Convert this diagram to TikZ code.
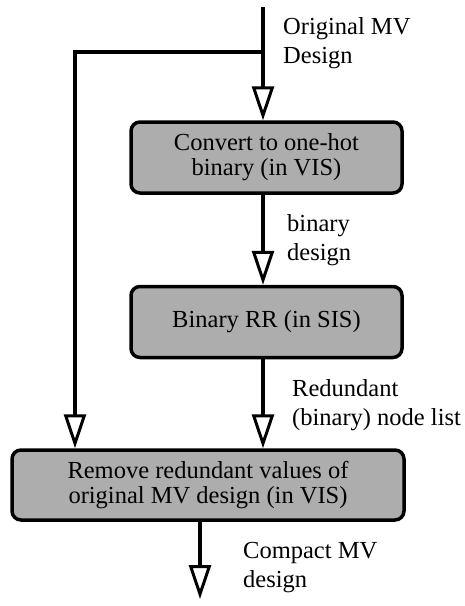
\documentclass[tikz,border=0pt]{standalone}
\usepackage{fontspec}
\setmainfont{Liberation Serif}
\usetikzlibrary{arrows.meta}
\begin{document}
\begin{tikzpicture}[x=1pt,y=-1pt,
  stepbox/.style={draw=black, line width=3.5pt, rounded corners=9pt, fill=black!32,
    align=center, inner sep=0pt, font=\fontsize{24.5}{25}\selectfont},
  flow/.style={line width=3.5pt, -{Triangle[open, width=22pt, length=34pt, line width=3pt, fill=white]}},
  lbl/.style={anchor=base west, align=left, inner sep=0pt, font=\fontsize{24.5}{29}\selectfont}]
\useasboundingbox (0,0) rectangle (465,606);
\node[stepbox, minimum width=271pt, minimum height=71pt] (b1) at (266.5,157.5) {Convert to one-hot\\binary (in VIS)};
\node[stepbox, minimum width=271pt, minimum height=71pt] (b2) at (266.5,322) {Binary RR (in SIS)};
\node[stepbox, minimum width=392pt, minimum height=70pt] (b3) at (208,485) {Remove redundant values of\\original MV design (in VIS)};
\coordinate (top) at (263,7);
\coordinate (br) at (263,52);
\coordinate (lc) at (75,52);
\coordinate (out) at (200,599);
\draw[flow] (top) -- (top |- b1.north);
\draw[flow] (br) -- (lc) -- (lc |- b3.north);
\draw[flow] (top |- b1.south) -- (top |- b2.north);
\draw[flow] (top |- b2.south) -- (top |- b3.north);
\draw[flow] (out |- b3.south) -- (out);
\node[lbl] (l1) at (283,63) {Original MV\\Design};
\node[lbl] (l2) at (287,260) {binary\\design};
\node[lbl] (l3) at (292,425) {Redundant\\(binary) node list};
\node[lbl] (l4) at (243,587) {Compact MV\\design};
\end{tikzpicture}
\end{document}
